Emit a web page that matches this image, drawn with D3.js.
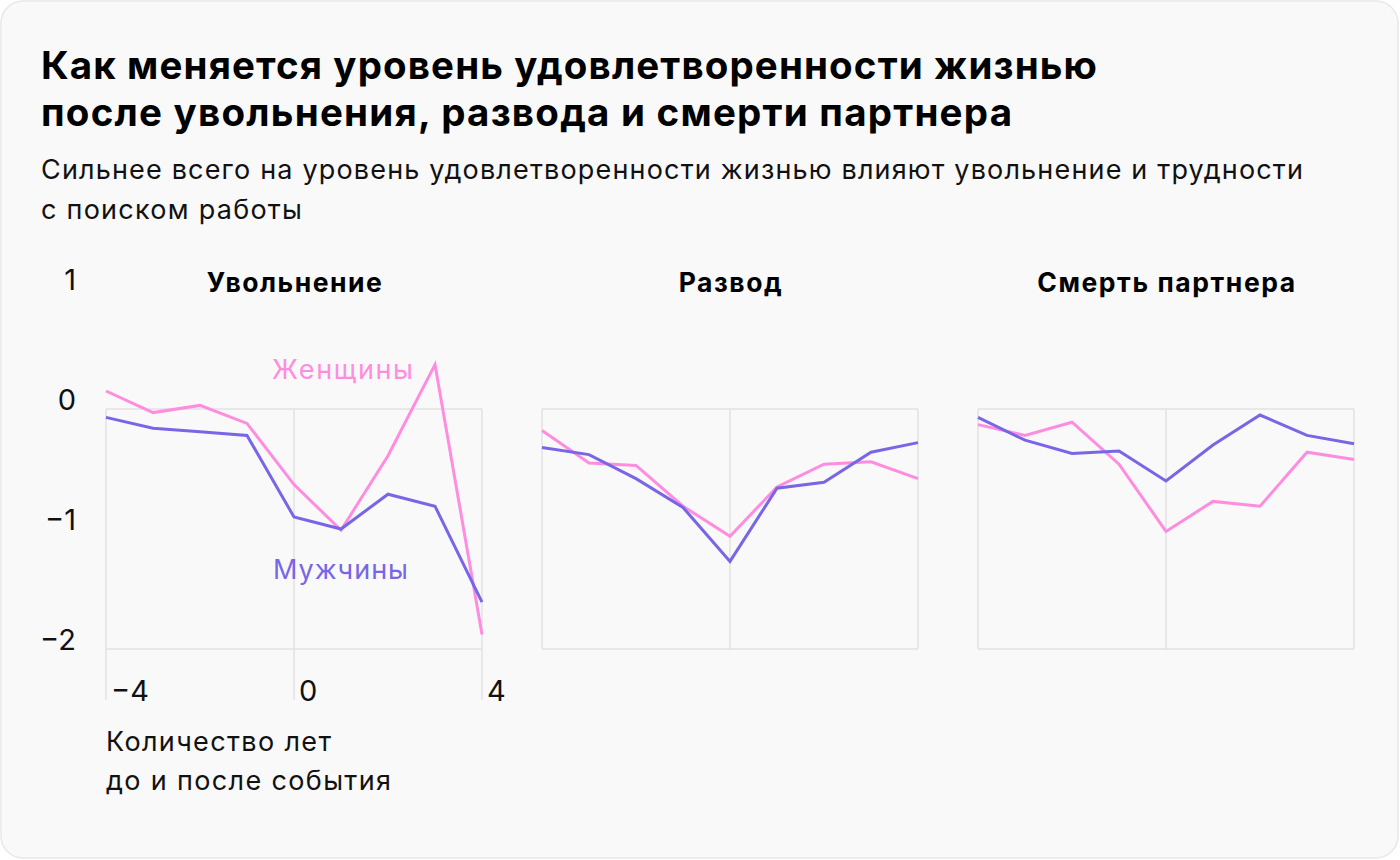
<!DOCTYPE html>
<html><head><meta charset="utf-8">
<script src="https://cdn.jsdelivr.net/npm/d3@7"></script>
<style>
html,body{margin:0;padding:0;background:#fff;}
svg{display:block;font-family:Inter,Roboto,"Noto Sans",sans-serif;}
</style></head>
<body><svg id="c" width="1400" height="860"></svg>
<script>
const years = [-4,-3,-2,-1,0,1,2,3,4];
const panelTitles = ["Увольнение","Развод","Смерть партнера"];
const womenJobLoss = [0.15,-0.03,0.03,-0.12,-0.63,-1.01,-0.39,0.37,-1.88];
const menJobLoss   = [-0.07,-0.16,-0.19,-0.22,-0.90,-1.00,-0.71,-0.81,-1.61];
const womenDivorce = [-0.18,-0.45,-0.47,-0.81,-1.06,-0.65,-0.46,-0.44,-0.58];
const menDivorce   = [-0.32,-0.38,-0.58,-0.82,-1.27,-0.66,-0.61,-0.36,-0.28];
const womenDeath   = [-0.13,-0.22,-0.11,-0.46,-1.02,-0.77,-0.81,-0.36,-0.42];
const menDeath     = [-0.07,-0.26,-0.37,-0.35,-0.60,-0.30,-0.05,-0.22,-0.29];
const yTicks = [1,0,-1,-2];
const xTicks = [-4,0,4];
const yTickLabels = ["1","0","−1","−2"];
const xTickLabels = ["−4","0","4"];
const seriesNames = ["Женщины","Мужчины"];

const womenSeries = [womenJobLoss, womenDivorce, womenDeath];
const menSeries = [menJobLoss, menDivorce, menDeath];

const PINK = "#ff8ddf", PURPLE = "#7866e6", GRID = "#e2e2e2";
const svg = d3.select("#c");

// adjust letter-spacing so the text spans the given width
function fit(sel, w){
  const n = sel.text().length;
  const cur = sel.node().getComputedTextLength();
  if(n>1) sel.attr("letter-spacing", ((w-cur)/(n-1)).toFixed(3));
  return sel;
}
function txt(x,y,size,str,opts={}){
  const t = svg.append("text").attr("x",x).attr("y",y).attr("font-size",size)
    .attr("fill",opts.fill||"#111").attr("font-weight",opts.weight||400)
    .attr("text-anchor",opts.anchor||"start").text(str);
  if(opts.w) fit(t,opts.w);
  return t;
}

svg.append("rect").attr("x",1).attr("y",1).attr("width",1397).attr("height",857)
  .attr("rx",22).attr("fill","#f9f9f9").attr("stroke","#e8e8e8").attr("stroke-width",1.5);

txt(41,79,38.5,"Как меняется уровень удовлетворенности жизнью",{weight:700,fill:"#000",w:1056});
txt(41,126,38.5,"после увольнения, развода и смерти партнера",{weight:700,fill:"#000",w:971});
txt(41,179,27,"Сильнее всего на уровень удовлетворенности жизнью влияют увольнение и трудности",{w:1262});
txt(41,219,27,"с поиском работы",{w:261});

const y = d3.scaleLinear().domain([-2,1]).range([649,289]);
const panelLeft = [106,542,978];
const panelW = 376;
const titleW = [175,103,258];

yTicks.forEach((t,i)=>{
  txt(76,y(t)+1,29,yTickLabels[i],{anchor:"end"});
});

panelLeft.forEach((left,pi)=>{
  const x = d3.scaleLinear().domain([-4,4]).range([left,left+panelW]);
  const g = svg.append("g");
  [0,-2].forEach(v=>{
    g.append("line").attr("x1",x(-4)).attr("x2",x(4)).attr("y1",y(v)).attr("y2",y(v))
      .attr("stroke",GRID).attr("stroke-width",1.5);
  });
  xTicks.forEach(t=>{
    g.append("line").attr("x1",x(t)).attr("x2",x(t)).attr("y1",y(0))
      .attr("y2", pi===0 ? 700 : y(-2))
      .attr("stroke",GRID).attr("stroke-width",1.5);
  });
  txt(x(0)+1,292,26.5,panelTitles[pi],{weight:700,fill:"#000",anchor:"middle",w:titleW[pi]});
  const line = d3.line().x((d,i)=>x(years[i])).y(d=>y(d));
  g.append("path").datum(womenSeries[pi]).attr("d",line).attr("fill","none")
    .attr("stroke",PINK).attr("stroke-width",3).attr("stroke-linejoin","miter");
  g.append("path").datum(menSeries[pi]).attr("d",line).attr("fill","none")
    .attr("stroke",PURPLE).attr("stroke-width",3).attr("stroke-linejoin","miter");
  if(pi===0){
    xTicks.forEach((t,i)=>{
      txt(x(t)+5,701,29,xTickLabels[i]);
    });
    txt(left,751,27,"Количество лет",{w:225});
    txt(left,790,27,"до и после события",{w:285});
    txt(272,379,27,seriesNames[0],{fill:PINK,w:141});
    txt(273,579,27,seriesNames[1],{fill:PURPLE,w:135});
  }
});
</script></body></html>
